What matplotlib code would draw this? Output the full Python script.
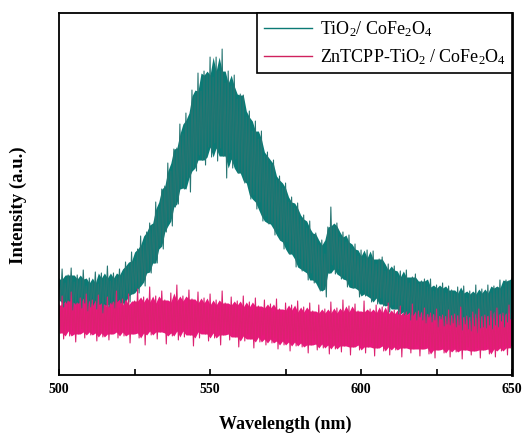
import numpy as np
import matplotlib
matplotlib.use("Agg")
import matplotlib.pyplot as plt
from matplotlib.ticker import MultipleLocator

plt.rcParams['font.family'] = ['Liberation Serif', 'DejaVu Serif']
plt.rcParams['mathtext.fontset'] = 'custom'
plt.rcParams['mathtext.rm'] = 'Liberation Serif'
plt.rcParams['mathtext.default'] = 'regular'

# wavelength grid, 1 nm steps
wavelength = np.arange(500, 651, 1)

# TiO2/CoFe2O4 : top and bottom of the noisy trace in each 1 nm step (a.u.)
tio2_hi = [
    96, 106, 92, 100, 107, 93, 100, 96, 105, 89,
    97, 92, 103, 91, 102, 97, 109, 94, 102, 97,
    106, 100, 113, 109, 123, 114, 126, 139, 130, 143,
    152, 150, 173, 166, 186, 189, 212, 204, 226, 227,
    251, 241, 262, 255, 285, 279, 302, 284, 304, 300,
    318, 298, 318, 304, 326, 292, 304, 289, 300, 276,
    281, 280, 258, 264, 244, 254, 236, 244, 219, 223,
    211, 215, 195, 199, 187, 192, 173, 178, 167, 172,
    156, 160, 147, 154, 141, 142, 130, 135, 121, 148,
    168, 149, 152, 138, 143, 133, 140, 126, 131, 119,
    125, 117, 125, 116, 124, 111, 116, 118, 104, 111,
    105, 109, 98, 104, 98, 105, 92, 98, 101, 91,
    94, 96, 88, 96, 84, 90, 87, 92, 82, 89,
    85, 81, 88, 82, 89, 77, 84, 81, 90, 80,
    86, 82, 90, 82, 89, 87, 95, 87, 95, 94,
    97]
tio2_lo = [
    75, 68, 72, 76, 65, 71, 74, 67, 72, 64,
    68, 73, 66, 71, 62, 72, 68, 71, 67, 76,
    72, 71, 79, 73, 81, 86, 82, 93, 89, 103,
    102, 112, 112, 129, 126, 143, 154, 149, 168, 171,
    187, 186, 197, 183, 207, 204, 220, 215, 210, 228,
    218, 232, 214, 227, 219, 197, 222, 207, 216, 202,
    202, 192, 194, 176, 180, 166, 173, 154, 159, 151,
    152, 140, 146, 135, 126, 133, 121, 121, 108, 116,
    104, 106, 95, 102, 92, 95, 84, 86, 78, 102,
    110, 101, 106, 96, 99, 88, 95, 87, 87, 78,
    85, 79, 81, 73, 77, 71, 77, 69, 71, 63,
    70, 66, 61, 68, 60, 63, 55, 62, 55, 58,
    55, 52, 58, 53, 55, 48, 56, 49, 51, 50,
    52, 48, 50, 45, 51, 46, 44, 49, 42, 47,
    48, 47, 50, 46, 50, 48, 54, 48, 53, 56,
    53]

# ZnTCPP-TiO2/CoFe2O4
zn_hi = [
    70, 79, 67, 74, 83, 68, 72, 77, 66, 81,
    69, 75, 66, 80, 71, 67, 78, 68, 73, 84,
    67, 76, 70, 81, 68, 74, 86, 71, 78, 73,
    88, 72, 79, 70, 84, 75, 71, 82, 73, 90,
    74, 79, 71, 85, 76, 70, 83, 72, 77, 69,
    81, 70, 75, 67, 84, 72, 68, 78, 70, 74,
    66, 79, 68, 73, 65, 77, 69, 64, 75, 67,
    71, 63, 76, 66, 62, 72, 65, 70, 61, 74,
    63, 68, 60, 72, 64, 59, 70, 62, 66, 60,
    73, 62, 67, 60, 75, 63, 69, 61, 71, 64,
    60, 74, 63, 66, 59, 70, 62, 68, 58, 72,
    61, 65, 58, 69, 60, 63, 57, 71, 59, 64,
    56, 67, 58, 62, 55, 66, 57, 60, 54, 65,
    57, 61, 55, 68, 56, 59, 54, 63, 57, 66,
    55, 60, 58, 64, 56, 67, 59, 62, 58, 70,
    62]
zn_lo = [
    42, 36, 45, 39, 44, 33, 41, 46, 37, 43,
    40, 45, 34, 42, 38, 44, 35, 41, 46, 37,
    43, 39, 45, 32, 41, 44, 37, 42, 30, 44,
    40, 45, 36, 43, 46, 31, 42, 39, 45, 35,
    44, 38, 46, 40, 29, 43, 37, 45, 41, 34,
    42, 37, 44, 30, 40, 43, 35, 41, 38, 28,
    39, 34, 41, 36, 27, 38, 33, 40, 30, 36,
    32, 37, 26, 34, 30, 36, 24, 33, 29, 35,
    28, 32, 22, 30, 34, 25, 31, 27, 33, 21,
    30, 26, 33, 23, 29, 31, 20, 28, 32, 25,
    30, 22, 28, 32, 19, 27, 30, 24, 29, 20,
    28, 25, 30, 18, 27, 29, 22, 26, 30, 19,
    26, 29, 21, 27, 17, 25, 28, 22, 26, 18,
    27, 23, 26, 16, 25, 28, 20, 24, 27, 17,
    25, 28, 21, 26, 18, 27, 24, 29, 20, 27,
    30]

labels = [r'TiO$_2$/ CoFe$_2$O$_4$', r'ZnTCPP-TiO$_2$ / CoFe$_2$O$_4$']
teal = '#0b7a75'
pink = '#e8197c'


def draw_trace(ax, hi, lo, color, edge):
    hi = np.asarray(hi, float)
    lo = np.asarray(lo, float)
    # dense core of the band: median of each step and its neighbours
    core_hi = np.median(np.vstack([np.roll(hi, 1), hi, np.roll(hi, -1)]), axis=0)
    core_lo = np.median(np.vstack([np.roll(lo, 1), lo, np.roll(lo, -1)]), axis=0)
    core_hi[[0, -1]] = hi[[0, -1]]
    core_lo[[0, -1]] = lo[[0, -1]]
    ax.fill_between(wavelength, core_lo, core_hi, color=color, lw=0)
    # each 1 nm step drawn as a stroke from its top to its bottom
    x = np.column_stack([wavelength, wavelength + 0.5]).ravel()
    y = np.column_stack([hi, lo]).ravel()
    ax.plot(x, y, color=edge, lw=0.8)


fig = plt.figure(figsize=(5.23, 4.36), dpi=100)
ax = fig.add_axes([0.113, 0.140, 0.866, 0.830])

draw_trace(ax, tio2_hi, tio2_lo, teal, '#277572')
ax.plot([], [], color=teal, lw=1, label=labels[0])

draw_trace(ax, zn_hi, zn_lo, pink, '#dc2170')
ax.plot([], [], color='#d0215e', lw=1, label=labels[1])

ax.set_xlim(500, 650)
ax.set_ylim(0, 362)
ax.xaxis.set_major_locator(MultipleLocator(50))
ax.xaxis.set_minor_locator(MultipleLocator(25))
ax.tick_params(axis='x', which='both', direction='in', length=4, width=1.2,
               labelsize=10, pad=6)
for lbl in ax.get_xticklabels():
    lbl.set_fontweight('bold')
ax.set_yticks([])
for sp in ax.spines.values():
    sp.set_linewidth(1.3)
ax.spines['right'].set_linewidth(2)

ax.set_xlabel('Wavelength (nm)', fontsize=13, fontweight='bold', labelpad=14)
ax.set_ylabel('Intensity (a.u.)', fontsize=13.5, fontweight='bold')
ax.yaxis.set_label_coords(-0.07, 0.47)

leg = ax.legend(loc='upper right', borderaxespad=0, fancybox=False,
                edgecolor='black', framealpha=1, fontsize=13,
                handlelength=2.7, handletextpad=0.4, borderpad=0.35,
                labelspacing=0.45)
leg.get_frame().set_linewidth(1.2)

fig.savefig('out.png', dpi=100)
